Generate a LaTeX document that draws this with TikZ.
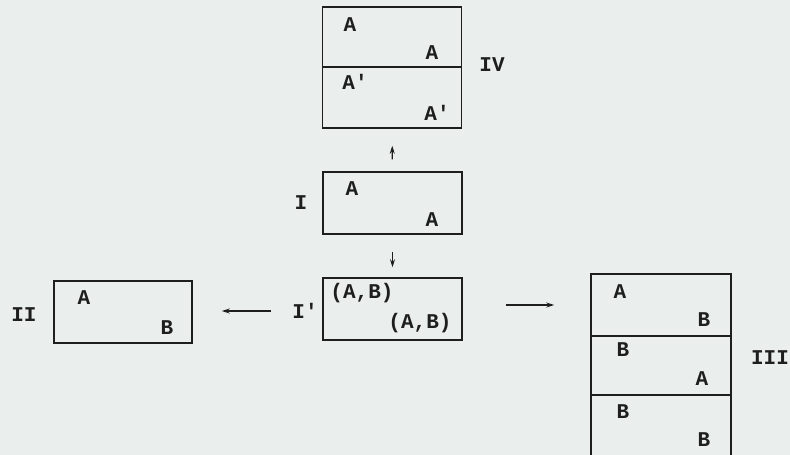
\documentclass[tikz,border=0pt]{standalone}
\usepackage{fontspec}
\setmonofont{Liberation Mono}
\usetikzlibrary{arrows.meta}
\definecolor{paper}{HTML}{EAEFEE}
\definecolor{ink}{HTML}{1E1E1E}

\begin{document}
\begin{tikzpicture}[x=1pt,y=-1pt,>={Stealth[length=8pt,width=5pt]},
  cell/.style={draw=ink,line width=1.5pt,minimum width=139pt,minimum height=61pt,inner sep=0pt},
  txt/.style={font=\fontsize{21}{24}\selectfont\ttfamily\bfseries,text=ink,inner sep=0pt},
  arr/.style={->,draw=ink,line width=1.1pt}]
\useasboundingbox (0,0) rectangle (790,455);
\fill[paper] (0,0) rectangle (790,455);
% boxes
\node[cell,minimum height=60pt] (ivtop) at (392,37) {};
\node[cell] (ivbot) at (392,97.5) {};
\node[cell,minimum height=62pt] (boxI) at (392.5,203) {};
\node[cell,minimum height=62pt] (boxIp) at (392.5,309) {};
\node[cell,minimum width=138pt,minimum height=62pt] (boxII) at (123,312) {};
\node[cell,minimum width=140pt,minimum height=62pt] (iiia) at (661,305) {};
\node[cell,minimum width=140pt,minimum height=59pt] (iiib) at (661,365.5) {};
\node[cell,minimum width=140pt,minimum height=62pt] (iiic) at (661,426) {};
% contents
\node[txt] (ivA) at (350,25) {A};
\node[txt] (ivB) at (432,53) {A};
\node[txt] (ivC) at (355,82) {A\textquotesingle};
\node[txt] (ivD) at (437,113) {A\textquotesingle};
\node[txt] (iA) at (352,189) {A};
\node[txt] (iB) at (432,220) {A};
\node[txt] (ipA) at (362,293) {(A,B)};
\node[txt] (ipB) at (420,323) {(A,B)};
\node[txt] (iiA) at (84,298) {A};
\node[txt] (iiB) at (167,328) {B};
\node[txt] (iiiA) at (620,292) {A};
\node[txt] (iiiB) at (704,320) {B};
\node[txt] (iiiC) at (623,350) {B};
\node[txt] (iiiD) at (702,379) {A};
\node[txt] (iiiE) at (623,412) {B};
\node[txt] (iiiF) at (704,440) {B};
% names
\node[txt] (lblIV) at (492,65) {IV};
\node[txt] (lblI) at (301,203) {I};
\node[txt] (lblIp) at (305,311) {I\textquotesingle};
\node[txt] (lblII) at (24,315) {II};
\node[txt] (lblIII) at (770,358) {III};
% arrows
\draw[arr,shorten <=12pt,shorten >=17pt] (boxI) -- (ivbot);
\draw[arr,shorten <=17pt,shorten >=10pt] (boxI) -- (boxIp);
\draw[arr,shorten <=21pt,shorten >=29pt] (lblIp) -- (lblIp -| boxII.east);
\draw[arr,shorten <=43pt,shorten >=36pt] ([yshift=4pt]boxIp.east) -- ([yshift=4pt]boxIp.east -| iiia.west);
\end{tikzpicture}
\end{document}
